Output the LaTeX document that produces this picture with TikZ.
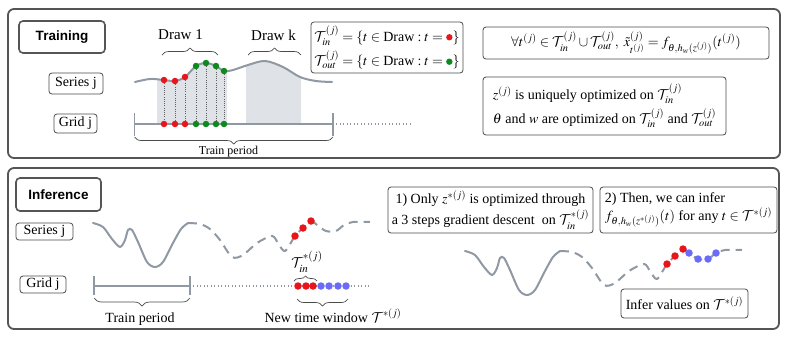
\documentclass[tikz,border=0pt]{standalone}
\usepackage{amsmath}
\usepackage{mathptmx}
\DeclareMathAlphabet{\mathcal}{OMS}{cmsy}{m}{n}
\usepackage{fontspec}
\setmainfont{Liberation Serif}
\setsansfont{Liberation Sans}
\usetikzlibrary{positioning, decorations.pathreplacing, calc}

\definecolor{panelgray}{HTML}{555555}
\definecolor{boxgray}{HTML}{4A4A4A}
\definecolor{curvegray}{HTML}{8F98A3}
\definecolor{shadegray}{HTML}{DFE2E7}
\definecolor{dotred}{HTML}{E8161B}
\definecolor{dotgreen}{HTML}{0C8A1C}
\definecolor{dotblue}{HTML}{6B6BFA}

\newcommand{\indot}[1]{\tikz[baseline=-0.6ex]\fill[#1] (0,0) circle (3.2pt);}
% series paths (pixel grid, y downwards)
\newcommand{\trainpath}{plot[smooth, tension=0.55] coordinates {(135,82) (150,79) (164,80)
    (175,81) (185,77) (196,66) (206,63) (216,66) (224,71) (233,70) (248,65) (265,61)
    (283,67) (300,77) (316,81) (332,82)}}
\newcommand{\pastpath}{plot[smooth, tension=0.5] coordinates {(93,223) (103,227) (112,239)
    (120,247) (125,240) (128,230) (132,230) (138,242) (147,262) (155,267) (163,262)
    (173,243) (181,229) (188,223)}}
\newcommand{\futurepath}{plot[smooth, tension=0.5] coordinates {(188,223) (200,224)
    (210,229) (220,240) (232,257) (243,255) (257,243) (272,236) (278,243) (285,251)
    (295,236) (303,228) (311,221) (317,225) (326,231) (336,231) (344,225) (353,222)
    (370,222)}}

\begin{document}
\begin{tikzpicture}[x=1pt, y=-1pt,
    font=\fontsize{14}{16}\selectfont,
    panel/.style={draw=panelgray, line width=1.8pt, rounded corners=6pt},
    title/.style={draw=panelgray, line width=1.6pt, rounded corners=4pt, inner sep=0pt,
                  font=\sffamily\bfseries\fontsize{13.5}{16}\selectfont},
    tag/.style={draw=boxgray, line width=0.8pt, rounded corners=3pt, inner sep=0pt},
    note/.style={draw=boxgray, line width=0.8pt, rounded corners=3pt, inner sep=3pt},
    dot/.style={circle, inner sep=0pt, minimum size=6.5pt},
    rdot/.style={dot, fill=dotred},
    gdot/.style={dot, fill=dotgreen},
    bdot/.style={dot, fill=dotblue},
    series/.style={draw=curvegray, line width=2pt, line cap=round},
    future/.style={series, line cap=butt, dash pattern=on 9pt off 6pt},
    gridline/.style={draw=curvegray, line width=1.5pt},
    ahead/.style={draw=curvegray, line width=1.2pt, dash pattern=on 1.2pt off 2.3pt},
    drop/.style={draw=gray!75!black, line width=0.6pt, dash pattern=on 1pt off 1.2pt},
    curly/.style={draw=boxgray, line width=0.7pt, decorate,
                  decoration={brace, amplitude=#1}},
    curly/.default=7pt,
]
    \useasboundingbox (0,0) rectangle (789,338);

    %==================== TRAINING PANEL ====================
    \draw[panel] (8,9) rectangle (780,158);
    \node[title, minimum width=86pt, minimum height=32pt] (training) at (62,37) {Training};
    \node[tag, minimum width=54pt, minimum height=21pt] (seriestop) at (76,83.5) {Series j};
    \node[tag, minimum width=43pt, minimum height=19pt] (gridtop) at (75.5,123.5) {Grid j};

    % shaded draws under the curve
    \begin{scope}
        \clip (157,40) rectangle (227,124) (246,40) rectangle (301,124);
        \fill[shadegray] \trainpath -- (332,124) -- (135,124) -- cycle;
    \end{scope}
    \draw[series] \trainpath;

    % time grid of the train period
    \draw[gridline] (135,124) -- (333,124);
    \draw[gridline] (134.5,113) -- (134.5,136);
    \draw[gridline] (333,113) -- (333,136);
    \draw[ahead] (336,124) -- (410,124);

    % sampled points of draw 1
    \foreach \x/\y/\c [count=\i] in {164/80/rdot, 175/81/rdot, 185/77/rdot, 196/66/gdot,
                                     206/63/gdot, 216/66/gdot, 224/71/gdot} {
        \node[\c] (s\i) at (\x,\y) {};
        \node[\c] (g\i) at (\x,124) {};
        \draw[drop] (s\i) -- (g\i);
    }

    \draw[curly] (162,55) -- (218,55);
    \draw[curly] (248,55) -- (301,55);
    \node[font=\fontsize{15}{17}\selectfont] (draw1) at (180.5,35) {Draw 1};
    \node[font=\fontsize{15}{17}\selectfont] (drawk) at (273.5,35) {Draw k};
    \draw[curly] (333,137) -- (134.5,137);
    \node[font=\fontsize{12}{14}\selectfont] (trainp) at (228.5,151.5) {Train period};

    % sets and objective
    \node[note, minimum width=152pt, minimum height=51pt, align=left] (sets) at (387,47.5)
        {$\mathcal{T}_{in}^{(j)} = \{t \in \text{Draw} : t = \indot{dotred}\}$\\[4pt]
         $\mathcal{T}_{out}^{(j)} = \{t \in \text{Draw} : t = \indot{dotgreen}\}$};
    \node[note, minimum width=286pt, minimum height=32pt] (fit) at (626,43)
        {$\forall t^{(j)} \in \mathcal{T}_{in}^{(j)} \cup \mathcal{T}_{out}^{(j)},\
          \tilde{x}_{t^{(j)}}^{(j)} = f_{\theta,h_w(z^{(j)})}(t^{(j)})$};
    \node[note, minimum width=243pt, minimum height=58pt, align=left] (optim) at (604.5,106)
        {$z^{(j)}$ is uniquely optimized on $\mathcal{T}_{in}^{(j)}$\\[4pt]
         $\theta$ and $w$ are optimized on $\mathcal{T}_{in}^{(j)}$ and $\mathcal{T}_{out}^{(j)}$};

    %==================== INFERENCE PANEL ====================
    \draw[panel] (8,168) rectangle (779,329);
    \node[title, minimum width=85pt, minimum height=33pt] (inference) at (58.5,194.5) {Inference};
    \node[tag, minimum width=57pt, minimum height=17pt] (seriesbot) at (44.5,231.5) {Series j};
    \node[tag, minimum width=46pt, minimum height=17pt] (gridbot) at (43,284.5) {Grid j};

    % known past and unseen window
    \draw[series] \pastpath;
    \draw[future] \futurepath;
    \foreach \x/\y [count=\i] in {295/236, 303/228, 311/221}
        \node[rdot, minimum size=7.5pt] (n\i) at (\x,\y) {};

    \draw[gridline, line width=2pt] (94,286) -- (190,286);
    \draw[gridline, line width=2pt] (94,276) -- (94,295);
    \draw[gridline, line width=2pt] (190,276) -- (190,295);
    \draw[ahead] (193,286) -- (370,286);
    \foreach \x/\c [count=\i] in {298/rdot, 306/rdot, 313/rdot, 321/bdot, 329/bdot,
                                  338/bdot, 346/bdot}
        \node[\c, minimum size=7.5pt] (w\i) at (\x,286) {};

    \draw[curly=5pt] (294,281) -- (317,281);
    \node[font=\fontsize{15}{17}\selectfont] (tin) at (307,262) {$\mathcal{T}_{in}^{*(j)}$};
    \draw[curly=8pt] (190,298) -- (94,298);
    \draw[curly=7pt] (348,299) -- (297,299);
    \node[anchor=base] (trainq) at (140,322) {Train period};
    \node[anchor=base] (window) at (333,322) {New time window $\mathcal{T}^{*(j)}$};

    % steps at inference
    \node[note, minimum width=205pt, minimum height=46pt, align=center] (step1) at (490.5,210)
        {1) Only $z^{*(j)}$ is optimized through\\[2pt]
         a 3 steps gradient descent~ on $\mathcal{T}_{in}^{*(j)}$};
    \node[note, minimum width=177pt, minimum height=46pt, align=left] (step2) at (688.5,210)
        {2) Then, we can infer\\[2pt]
         $f_{\theta,h_w(z^{*(j)})}(t)$ for any $t \in \mathcal{T}^{*(j)}$};

    % inferred series
    \begin{scope}[shift={(372,28)}]
        \draw[series] \pastpath;
        \draw[future] \futurepath;
        \foreach \x/\y/\c [count=\i] in {295/236/rdot, 303/228/rdot, 311/221/rdot,
                                         317/225/bdot, 326/231/bdot, 336/231/bdot,
                                         344/225/bdot}
            \node[\c, minimum size=7.5pt] (f\i) at (\x,\y) {};
    \end{scope}
    \node[note, minimum width=127pt, minimum height=29pt] (infer) at (684.5,303.5)
        {Infer values on $\mathcal{T}^{*(j)}$};
\end{tikzpicture}
\end{document}
